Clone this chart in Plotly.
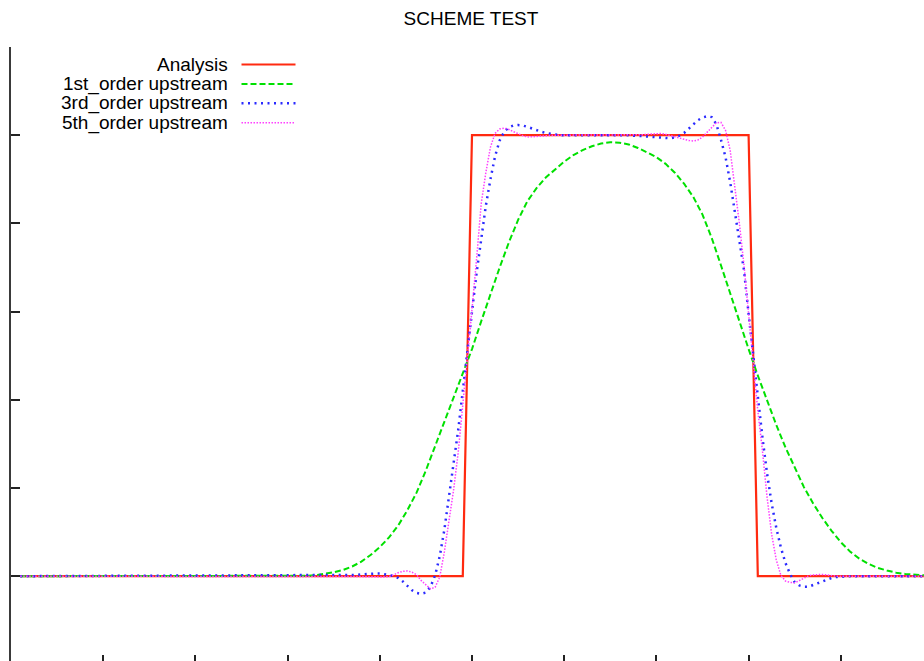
import plotly.graph_objects as go

# ---------------- data ----------------
x_analysis = [1, 49, 50, 80, 81, 100]
y_analysis = [0.0, 0.0, 1.0, 1.0, 0.0, 0.0]

x_first = list(range(1, 101))
y_first = [
    0, 0, 0, 0, 0, 0, 0, 0, 0, 0,
    0, 0, 0, 0, 0, 0, 0, 0, 0, 0,
    0, 0, 0, 0, 0, 0, 0, 0, 0, 0.0002,
    0.0005, 0.001, 0.002, 0.005, 0.009, 0.014, 0.022, 0.033, 0.048, 0.066,
    0.088, 0.115, 0.150, 0.190, 0.240, 0.295, 0.350, 0.405, 0.460, 0.515,
    0.578, 0.640, 0.700, 0.757, 0.808, 0.850, 0.880, 0.904, 0.923, 0.940,
    0.955, 0.966, 0.975, 0.981, 0.984, 0.983, 0.979, 0.971, 0.961, 0.950,
    0.935, 0.915, 0.890, 0.860, 0.820, 0.767, 0.705, 0.640, 0.578, 0.515,
    0.455, 0.398, 0.343, 0.292, 0.245, 0.202, 0.165, 0.132, 0.103, 0.077,
    0.056, 0.040, 0.028, 0.019, 0.013, 0.008, 0.005, 0.003, 0.002, 0.001,
]

# sample grid of the 3rd / 5th order solutions (fine grid over the pulse)
x_fine = [1.0] + [37.0 + 0.5 * i for i in range(107)] + [91.0, 100.0]

y_third = [0.0,
    0.002, 0.003, 0.004, 0.005, 0.005, 0.006, 0.006, 0.005, 0.003, 0.000,          # 37-41.5
    -0.004, -0.012, -0.022, -0.032, -0.038, -0.040, -0.037, -0.024, 0.002, 0.045,  # 42-46.5
    0.105, 0.180, 0.256, 0.331, 0.420, 0.515, 0.600, 0.688, 0.770, 0.840,          # 47-51.5
    0.900, 0.952, 0.988, 1.008, 1.018, 1.022, 1.023, 1.022, 1.019, 1.015,          # 52-56.5
    1.012, 1.008, 1.005, 1.003, 1.001, 1.000, 1.000, 1.000, 1.000, 1.000,          # 57-61.5
    1.000, 1.000, 1.000, 1.000, 1.000, 1.001, 1.001, 1.001, 1.001, 1.000,          # 62-66.5
    1.000, 0.999, 0.999, 0.998, 0.997, 0.996, 0.995, 0.994, 0.993, 0.993,          # 67-71.5
    0.995, 0.999, 1.005, 1.014, 1.025, 1.034, 1.040, 1.043, 1.041, 1.025,          # 72-76.5
    0.990, 0.950, 0.894, 0.830, 0.765, 0.694, 0.595, 0.500, 0.400, 0.315,          # 77-81.5
    0.233, 0.165, 0.110, 0.065, 0.030, 0.005, -0.014, -0.021, -0.024, -0.024,      # 82-86.5
    -0.020, -0.016, -0.011, -0.007, -0.004, -0.002,                                # 87-89.5
    -0.001,                                                                        # 90
    0.0, 0.0]

y_fifth = [0.0,
    0.000, 0.000, 0.000, -0.001, -0.001, -0.001, -0.002, -0.002, -0.001, 0.003,    # 37-41.5
    0.008, 0.011, 0.012, 0.009, 0.003, -0.010, -0.020, -0.029, -0.025, -0.002,     # 42-46.5
    0.055, 0.120, 0.195, 0.280, 0.385, 0.500, 0.605, 0.720, 0.845, 0.915,          # 47-51.5
    0.973, 1.004, 1.014, 1.016, 1.013, 1.008, 1.003, 0.999, 0.996, 0.996,          # 52-56.5
    0.997, 0.998, 0.999, 1.000, 1.000, 1.000, 1.000, 1.000, 1.000, 1.000,          # 57-61.5
    1.000, 1.000, 1.000, 1.000, 1.000, 1.000, 1.000, 1.000, 1.000, 1.000,          # 62-66.5
    1.000, 1.000, 1.000, 1.001, 1.002, 1.003, 1.004, 1.004, 1.002, 0.999,          # 67-71.5
    0.996, 0.993, 0.991, 0.988, 0.987, 0.989, 0.996, 1.007, 1.019, 1.028,          # 72-76.5
    1.029, 1.011, 0.966, 0.885, 0.800, 0.705, 0.592, 0.478, 0.375, 0.285,          # 77-81.5
    0.180, 0.095, 0.037, 0.002, -0.011, -0.014, -0.015, -0.010, -0.004, 0.001,     # 82-86.5
    0.003, 0.004, 0.004, 0.003, 0.001, 0.000,                                      # 87-89.5
    0.000,                                                                         # 90
    0.0, 0.0]

names = ["Analysis", "1st_order upstream", "3rd_order upstream", "5th_order upstream"]
x_ticks = [0, 10, 20, 30, 40, 50, 60, 70, 80, 90, 100]
y_ticks = [-0.2, 0.0, 0.2, 0.4, 0.6, 0.8, 1.0, 1.2]

# ---------------- styles ----------------
styles = [
    dict(color="#ff2a10", width=2.2, dash="solid"),
    dict(color="#00e000", width=2, dash="6px,3px"),
    dict(color="#2a2aff", width=2.5, dash="2px,4.5px"),
    dict(color="#ff40ff", width=1.5, dash="1.5px,1.5px"),
]

FONT = "Liberation Sans, Arial, sans-serif"
W, H = 924, 661
ML, MT = 11, 47
PW, PH = W - ML, H - MT
PX_PER_X = 9.22
PX_PER_Y = 441.0

fig = go.Figure()
series = [(x_analysis, y_analysis), (x_first, y_first), (x_fine, y_third), (x_fine, y_fifth)]
for (xs, ys), nm, st in zip(series, names, styles):
    fig.add_trace(go.Scatter(x=xs, y=ys, mode="lines", name=nm, line=st,
                             hoverinfo="skip"))

def px_to_paper_x(px):
    return (px - ML) / PW

def py_to_paper_y(py):
    return (H - py) / PH

# gnuplot-style key: right-aligned text, sample line to the right
annotations = []
shapes = []
for i, (nm, st) in enumerate(zip(names, styles)):
    yc = 64.5 + 19.4 * i
    annotations.append(dict(
        text=nm, xref="paper", yref="paper",
        x=px_to_paper_x(230), y=py_to_paper_y(yc),
        xanchor="right", yanchor="middle", showarrow=False,
        font=dict(family=FONT, size=19, color="#000"),
    ))
    shapes.append(dict(
        type="line", xref="paper", yref="paper",
        x0=px_to_paper_x(241.5), x1=px_to_paper_x(295.5),
        y0=py_to_paper_y(yc), y1=py_to_paper_y(yc),
        line=st,
    ))

x_range = [0, PW / PX_PER_X]
y_range = [1.2 - PH / PX_PER_Y, 1.2]

fig.update_layout(
    width=W, height=H,
    margin=dict(l=ML, r=0, t=MT, b=0, pad=0),
    paper_bgcolor="white", plot_bgcolor="white",
    showlegend=False,
    title=dict(text="SCHEME TEST", xref="container", yref="container",
               x=471 / W, y=1 - 18 / H, xanchor="center", yanchor="middle",
               font=dict(family=FONT, size=19, color="#000")),
    xaxis=dict(range=x_range, showline=False, showgrid=False, zeroline=False,
               ticks="inside", tickvals=x_ticks, ticklen=6, tickwidth=1.5,
               tickcolor="#222", showticklabels=False, fixedrange=True),
    xaxis2=dict(range=x_range, overlaying="x", side="top", anchor="y",
                showline=True, linecolor="#3a3a3a", linewidth=2,
                showgrid=False, zeroline=False,
                ticks="inside", tickvals=x_ticks, ticklen=9, tickwidth=1.5,
                tickcolor="#222", showticklabels=False, fixedrange=True),
    yaxis=dict(range=y_range, showline=True, linecolor="#3a3a3a", linewidth=2,
               showgrid=False, zeroline=False,
               ticks="inside", tickvals=y_ticks, ticklen=9, tickwidth=1.5,
               tickcolor="#222", showticklabels=False, fixedrange=True),
    annotations=annotations,
    shapes=shapes,
)

fig.write_html("out.html")
